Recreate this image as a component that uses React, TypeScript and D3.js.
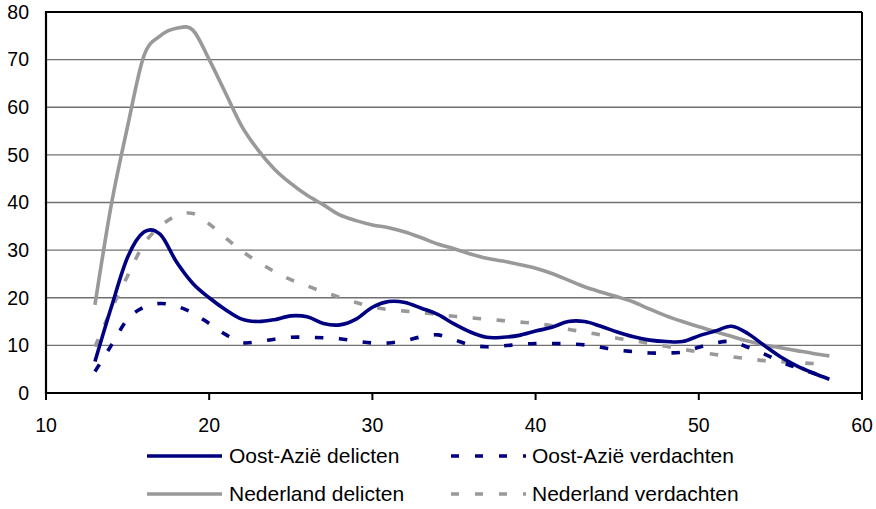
import React from "react";
import * as d3 from "d3";

const ages = [13, 14, 15, 16, 17, 18, 19, 20, 21, 22, 23, 24, 25, 26, 27, 28, 29, 30, 31, 32, 33, 34, 35, 36, 37, 38, 39, 40, 41, 42, 43, 44, 45, 46, 47, 48, 49, 50, 51, 52, 53, 54, 55, 56, 57, 58];

const oostAzieDelicten = [6.6, 18, 28.5, 33.8, 33.3, 27.5, 23, 20, 17.5, 15.5, 15, 15.4, 16.2, 16, 14.6, 14.3, 15.5, 18, 19.2, 19, 17.8, 16.5, 14.5, 12.8, 11.7, 11.7, 12.1, 13, 13.8, 15, 15, 14, 12.8, 11.8, 11.1, 10.8, 10.8, 12, 13, 14, 12.5, 10, 7.6, 5.7, 4.2, 2.9];
const oostAzieVerdachten = [4.5, 10, 15.5, 18, 18.8, 18.2, 16.8, 14.6, 12.3, 10.6, 10.8, 11.3, 11.7, 11.7, 11.6, 11.4, 10.9, 10.5, 10.5, 11, 11.8, 12.2, 11.2, 10.1, 9.7, 9.9, 10.2, 10.4, 10.4, 10.3, 10.1, 9.6, 9, 8.7, 8.4, 8.4, 8.6, 9.6, 10.5, 10.8, 9.6, 8.2, 6.6, 5.3, 4.2, 3.2];
const nederlandDelicten = [18.5, 39.5, 56, 70.8, 75, 76.6, 76.2, 70, 63, 56, 51, 47, 44, 41.5, 39.5, 37.4, 36.2, 35.3, 34.7, 33.8, 32.6, 31.3, 30.3, 29.2, 28.3, 27.7, 27, 26.2, 25.1, 23.7, 22.3, 21.2, 20.2, 19.1, 17.6, 16.2, 15, 13.9, 12.9, 11.9, 10.9, 10.1, 9.5, 8.9, 8.3, 7.8];
const nederlandVerdachten = [9.7, 17.5, 24.6, 31.3, 35, 37.2, 37.7, 35.5, 32.6, 29.8, 27.5, 25.5, 23.8, 22.5, 21.2, 20.1, 19, 18.1, 17.5, 17.2, 16.9, 16.5, 16.1, 15.8, 15.5, 15.2, 14.9, 14.6, 14.1, 13.4, 12.8, 12.2, 11.5, 11, 10.4, 9.8, 9.2, 8.6, 8.1, 7.6, 7.2, 6.8, 6.6, 6.4, 6.2, 6.2];

const xTicks = [10, 20, 30, 40, 50, 60];
const yTicks = [0, 10, 20, 30, 40, 50, 60, 70, 80];

const seriesNames = ["Oost-Azië delicten", "Oost-Azië verdachten", "Nederland delicten", "Nederland verdachten"];

const NAVY = "#000080";
const GRAY = "#999999";

export default function App() {
  const W = 876;
  const H = 509;
  const left = 46, right = 862, top = 12, bottom = 393;
  const x = d3.scaleLinear().domain([10, 60]).range([left, right]);
  const y = d3.scaleLinear().domain([0, 80]).range([bottom, top]);

  const line = d3
    .line<number>()
    .x((_, i) => x(ages[i]))
    .y((v) => y(v))
    .curve(d3.curveCardinal.tension(0));

  const series = [
    { name: seriesNames[0], data: oostAzieDelicten, color: NAVY, dash: undefined },
    { name: seriesNames[1], data: oostAzieVerdachten, color: NAVY, dash: "8.5,15.5" },
    { name: seriesNames[2], data: nederlandDelicten, color: GRAY, dash: undefined },
    { name: seriesNames[3], data: nederlandVerdachten, color: GRAY, dash: "8.5,15.5" },
  ];

  const drawOrder = [2, 3, 1, 0];
  const font = "'Liberation Sans', Arial, sans-serif";

  const legendItems = [
    { s: series[0], lx: 147, ly: 456, tx: 229, ty: 462.5 },
    { s: series[1], lx: 451, ly: 456, tx: 532, ty: 462.5 },
    { s: series[2], lx: 147, ly: 494, tx: 229, ty: 501 },
    { s: series[3], lx: 451, ly: 494, tx: 532, ty: 501 },
  ];

  return (
    <svg
      width={W}
      height={H}
      style={{ position: "absolute", left: 0, top: 0, background: "#fff" }}
    >
      <rect x={0} y={0} width={W} height={H} fill="#fff" />
      {yTicks.filter((t) => t > 0 && t < 80).map((t) => (
        <line key={t} x1={left} x2={right} y1={y(t)} y2={y(t)} stroke="#707070" strokeWidth={1.3} />
      ))}
      <line x1={left} x2={right} y1={top} y2={top} stroke="#000" strokeWidth={2} />
      <line x1={right} x2={right} y1={top} y2={bottom} stroke="#000" strokeWidth={2} />
      <line x1={left} x2={left} y1={top - 1} y2={bottom + 1} stroke="#000" strokeWidth={2.2} />
      <line x1={left - 1} x2={right + 1} y1={bottom} y2={bottom} stroke="#000" strokeWidth={2.2} />
      {xTicks.map((t) => (
        <line key={t} x1={x(t)} x2={x(t)} y1={bottom} y2={bottom + 7} stroke="#000" strokeWidth={2} />
      ))}
      {yTicks.map((t) => (
        <text key={t} x={29} y={y(t) + 6.8} textAnchor="end" fontFamily={font} fontSize={19.5} fill="#000">
          {t}
        </text>
      ))}
      {xTicks.map((t) => (
        <text key={t} x={x(t)} y={432} textAnchor="middle" fontFamily={font} fontSize={19.5} fill="#000">
          {t}
        </text>
      ))}
      {drawOrder.map((i) => {
        const s = series[i];
        return (
          <path
            key={s.name}
            d={line(s.data) || ""}
            fill="none"
            stroke={s.color}
            strokeWidth={3.6}
            strokeDasharray={s.dash}
            strokeLinejoin="round"
          />
        );
      })}
      {legendItems.map(({ s, lx, ly, tx, ty }) => (
        <g key={s.name}>
          <line
            x1={lx}
            x2={lx + 75}
            y1={ly}
            y2={ly}
            stroke={s.color}
            strokeWidth={3.6}
            strokeDasharray={s.dash ? "8,16" : undefined}
          />
          <text x={tx} y={ty} fontFamily={font} fontSize={21} fill="#000">
            {s.name}
          </text>
        </g>
      ))}
    </svg>
  );
}
